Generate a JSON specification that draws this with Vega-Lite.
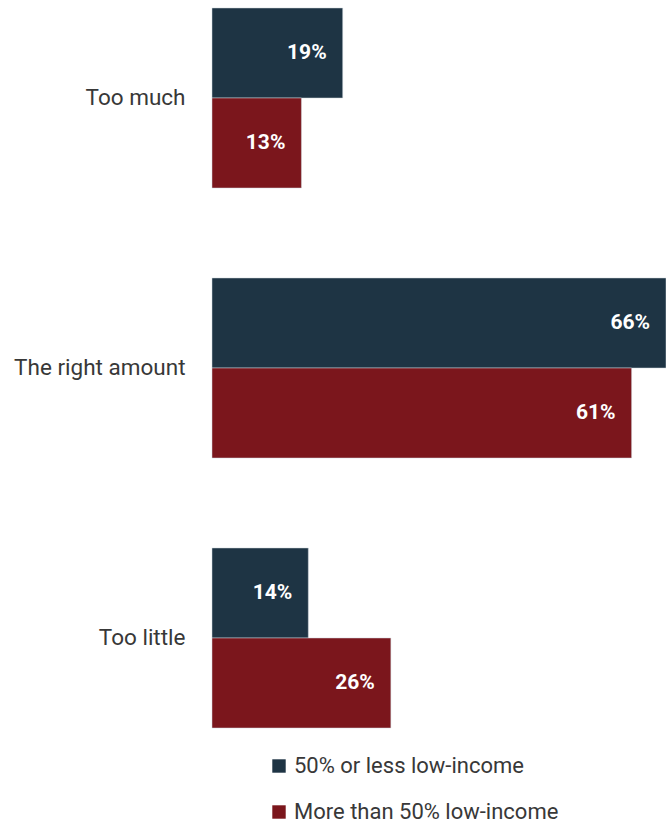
{
  "$schema": "https://vega.github.io/schema/vega-lite/v6.json",
  "autosize": "none",
  "padding": {"left": 212, "top": 0, "right": 0, "bottom": 94},
  "width": 454,
  "height": 736,
  "background": "white",
  "config": {"view": {"stroke": null}, "font": "Roboto"},
  "data": {
    "values": [
      {"category": "Too much", "group": "50% or less low-income", "value": 0.19},
      {"category": "Too much", "group": "More than 50% low-income", "value": 0.13},
      {"category": "The right amount", "group": "50% or less low-income", "value": 0.66},
      {"category": "The right amount", "group": "More than 50% low-income", "value": 0.61},
      {"category": "Too little", "group": "50% or less low-income", "value": 0.14},
      {"category": "Too little", "group": "More than 50% low-income", "value": 0.26}
    ]
  },
  "encoding": {
    "y": {
      "field": "category",
      "type": "nominal",
      "sort": ["Too much", "The right amount", "Too little"],
      "scale": {"paddingInner": 0.3333, "paddingOuter": 0.0296},
      "axis": {
        "title": null,
        "domain": false,
        "ticks": false,
        "labelPadding": 27,
        "labelFontSize": 22.5,
        "labelColor": "#383838",
        "labelFont": "Roboto",
        "labelFontWeight": "normal",
        "labelLimit": 0
      }
    },
    "yOffset": {
      "field": "group",
      "type": "nominal",
      "sort": ["50% or less low-income", "More than 50% low-income"],
      "scale": {"paddingInner": 0, "paddingOuter": 0}
    },
    "x": {
      "field": "value",
      "type": "quantitative",
      "scale": {"domain": [0, 0.66], "nice": false},
      "axis": null
    }
  },
  "layer": [
    {
      "mark": {"type": "bar", "stroke": "#cfd6dc", "strokeWidth": 0.5},
      "encoding": {
        "color": {
          "field": "group",
          "type": "nominal",
          "sort": ["50% or less low-income", "More than 50% low-income"],
          "scale": {"range": ["#1e3444", "#7b161c"]},
          "legend": {
            "title": null,
            "orient": "none",
            "legendX": 56,
            "legendY": 755,
            "symbolType": "square",
            "symbolSize": 180,
            "symbolStrokeWidth": 0,
            "labelFontSize": 22,
            "labelFont": "Roboto",
            "labelFontWeight": "normal",
            "labelColor": "#383838",
            "labelLimit": 0,
            "rowPadding": 24,
            "labelOffset": 4
          }
        }
      }
    },
    {
      "mark": {"type": "text", "align": "right", "dx": -16, "color": "white", "fontWeight": "bold", "fontSize": 21, "font": "Roboto"},
      "encoding": {
        "text": {"field": "value", "type": "quantitative", "format": ".0%"}
      }
    }
  ]
}
